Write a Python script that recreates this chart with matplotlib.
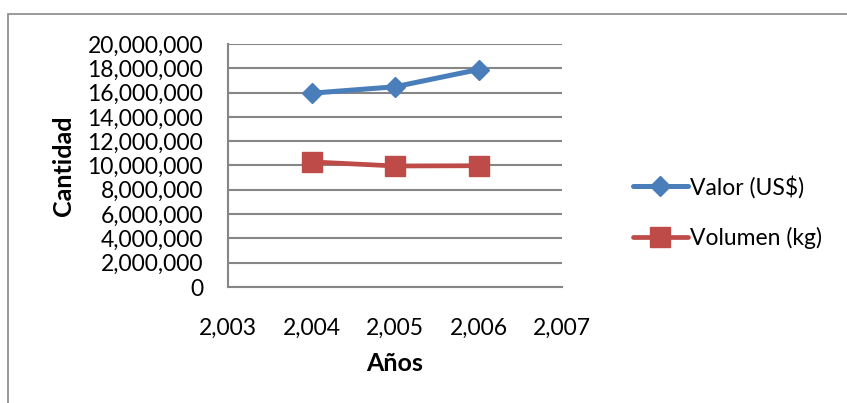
import matplotlib
matplotlib.use('Agg')
import matplotlib.pyplot as plt
from matplotlib.patches import Rectangle
from matplotlib.ticker import FuncFormatter, MultipleLocator

plt.rcParams['font.family'] = ['Lato', 'DejaVu Sans']

years = [2004, 2005, 2006]
valor = [15950000, 16480000, 17900000]
volumen = [10300000, 9960000, 9980000]

BLUE = '#4a7ebb'
RED = '#be4b48'
GRID = '#868686'

fig = plt.figure(figsize=(8.47, 4.03), dpi=100)
# chart area border
fig.patches.append(Rectangle((8 / 847, -0.1), 1.2, 1 - 14 / 403 + 0.1, transform=fig.transFigure,
                             fill=False, edgecolor='#898989', linewidth=1.2))

ax = fig.add_axes([228 / 847, 1 - 287 / 403, (562 - 228) / 847, (287 - 44) / 403])
ax.plot(years, valor, color=BLUE, linewidth=3.6, marker='D', markersize=10.5, label='Valor (US$)',
        solid_capstyle='round')
ax.plot(years, volumen, color=RED, linewidth=3.4, marker='s', markersize=14, label='Volumen (kg)',
        solid_capstyle='round')

ax.set_xlim(2003, 2007)
ax.set_ylim(0, 20000000)
ax.yaxis.set_major_locator(MultipleLocator(2000000))
ax.xaxis.set_major_locator(MultipleLocator(1))
fmt = FuncFormatter(lambda v, p: '{:,.0f}'.format(v))
ax.yaxis.set_major_formatter(fmt)
ax.xaxis.set_major_formatter(fmt)
ax.grid(axis='y', color=GRID, linewidth=1.5)
ax.set_axisbelow(True)
for s in ['top', 'right']:
    ax.spines[s].set_visible(False)
for s in ['left', 'bottom']:
    ax.spines[s].set_color(GRID)
    ax.spines[s].set_linewidth(1.5)
ax.tick_params(length=0, labelsize=16.5, colors='black')
ax.tick_params(axis='y', pad=18)
ax.tick_params(axis='x', pad=22)

ax.set_xlabel('Años', fontsize=18, fontweight='bold', labelpad=10)
ax.set_ylabel('Cantidad', fontsize=18, fontweight='bold', labelpad=9)

ax.legend(loc='center left', bbox_to_anchor=(1.185, 0.307), frameon=False, fontsize=16.5,
          handlelength=2.4, handletextpad=0.1, labelspacing=1.25, borderaxespad=0)

fig.savefig('out.png', dpi=100)
